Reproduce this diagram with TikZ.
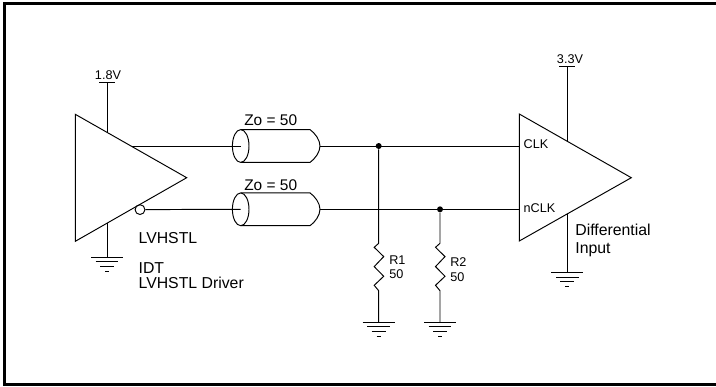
\documentclass[tikz,border=0pt]{standalone}
\usepackage{fontspec}
\setmainfont{Liberation Sans}
\usepackage{tikz}

\begin{document}
\begin{tikzpicture}[x=0.02cm,y=-0.02cm]
\tikzstyle{big} = [inner sep=0pt,font=\fontsize{9}{9}\selectfont];
\tikzstyle{small} = [inner sep=0pt,font=\fontsize{7.2}{7.2}\selectfont];
\tikzstyle{zo} = [inner sep=0pt,font=\fontsize{8.8}{8.8}\selectfont];
\tikzstyle{wire} = [line width=0.55pt];
\tikzstyle{dot} = [circle,fill,inner sep=0pt,minimum size=3.4pt];
\tikzstyle{bubble} = [circle,draw,line width=0.55pt,inner sep=0pt,minimum size=5.6pt];
\useasboundingbox (0,0) rectangle (716,386);
\draw [line width=1.7pt] (716,3.5) -- (4.5,3.5) -- (4.5,384.5) -- (716,384.5);

% driver
\coordinate (d1) at (75.3,114.3);
\coordinate (d2) at (75.3,241.3);
\coordinate (d3) at (186.7,177.7);
\draw [wire] (d1) -- (d3) -- (d2) -- cycle;
\coordinate (vd) at (107,82.3);
\coordinate (vdb) at (107,132.5);
\coordinate (gdt) at (107,223);
\coordinate (g1) at (107,257);
\draw [wire] (vd) -- (vdb);
\draw [wire] ([xshift=-0.16cm]vd) -- ([xshift=0.16cm]vd);
\draw [wire] (gdt) -- (g1);
\node [small] at (108,75) (v18) {1.8V};
\node [big,anchor=west] at (138.3,237.7) (lv) {LVHSTL};
\node [big,anchor=west] at (138.3,268) (idt) {IDT};
\node [big,anchor=west] at (138.3,283) (drv) {LVHSTL Driver};

% receiver
\coordinate (r1) at (519.3,114);
\coordinate (r2) at (519.3,241);
\coordinate (r3) at (631.3,177.7);
\draw [wire] (r1) -- (r3) -- (r2) -- cycle;
\coordinate (vr) at (567.3,66);
\coordinate (vrb) at (567.3,141);
\coordinate (grt) at (567.3,214);
\coordinate (g2) at (567.3,272.7);
\draw [wire] (vr) -- (vrb);
\draw [wire] ([xshift=-0.16cm]vr) -- ([xshift=0.16cm]vr);
\draw [wire] (grt) -- (g2);
\node [small] at (570,59) (v33) {3.3V};
\node [small,anchor=west] at (523.3,144) (clk) {CLK};
\node [small,anchor=west] at (523.3,207.7) (nclk) {nCLK};
\node [big,anchor=west] at (575,230) (dif) {Differential};
\node [big,anchor=west] at (575,250) (inp) {Input};

% lines
\coordinate (a0) at (132,146);
\coordinate (a1) at (240.7,146);
\coordinate (a2) at (320,146);
\coordinate (a3) at (519.3,146);
\node [bubble] (nb) at (140,209.6) {};
\coordinate (b1) at (240.7,209.3);
\coordinate (b2) at (320,209.3);
\coordinate (b3) at (519.3,209.3);
\node [dot] (n1) at (378.7,146) {};
\node [dot] (n2) at (440,209.3) {};
\draw [wire] (a0) -- (a1);
\draw [wire] (a2) -- (a3);
\draw [wire] (nb) -- (b1);
\draw [wire] (b2) -- (b3);

% cables
\foreach \c/\y in {a/146,b/209.3} {
  \draw [wire] (\c1) ellipse [x radius=8.3,y radius=16.4];
  \draw [wire] (241,\y-16.4) -- (310,\y-16.4) .. controls (315,\y-13) and (320,\y-6) .. (\c2) .. controls (320,\y+6) and (315,\y+13) .. (310,\y+16.4) -- (241,\y+16.4);
}
\node [zo] at (270.7,120) (za) {Zo = 50};
\node [zo] at (270.7,184.7) (zb) {Zo = 50};

% resistors
\coordinate (t1) at (378.7,243.3);
\coordinate (e1) at (378.7,290.7);
\coordinate (g3) at (378.7,322);
\coordinate (t2) at (440,243.3);
\coordinate (e2) at (440,290.7);
\coordinate (g4) at (440,322);
\foreach \n/\t/\e/\g in {n1/t1/e1/g3,n2/t2/e2/g4} {
  \draw [wire] (\n) -- (\t) -- ++(-4.5,4) -- ++(9.5,9.3) -- ++(-9.5,10) -- ++(9.5,9.7) -- ++(-9.5,9) -- (\e) -- (\g);
}
\node [small,anchor=west] at (389,260) (l1) {R1};
\node [small,anchor=west] at (389,274.3) (w1) {50};
\node [small,anchor=west] at (450,261.7) (l2) {R2};
\node [small,anchor=west] at (450,276.7) (w2) {50};

% grounds
\foreach \g in {g1,g2,g3,g4} {
  \draw [wire,shift={(\g)}] (-16,0) -- (16,0);
  \draw [wire,shift={(\g)}] (-11.3,4.5) -- (11.3,4.5);
  \draw [wire,shift={(\g)}] (-7,9) -- (7,9);
  \draw [wire,shift={(\g)}] (-2,14) -- (2,14);
}
\end{tikzpicture}
\end{document}
